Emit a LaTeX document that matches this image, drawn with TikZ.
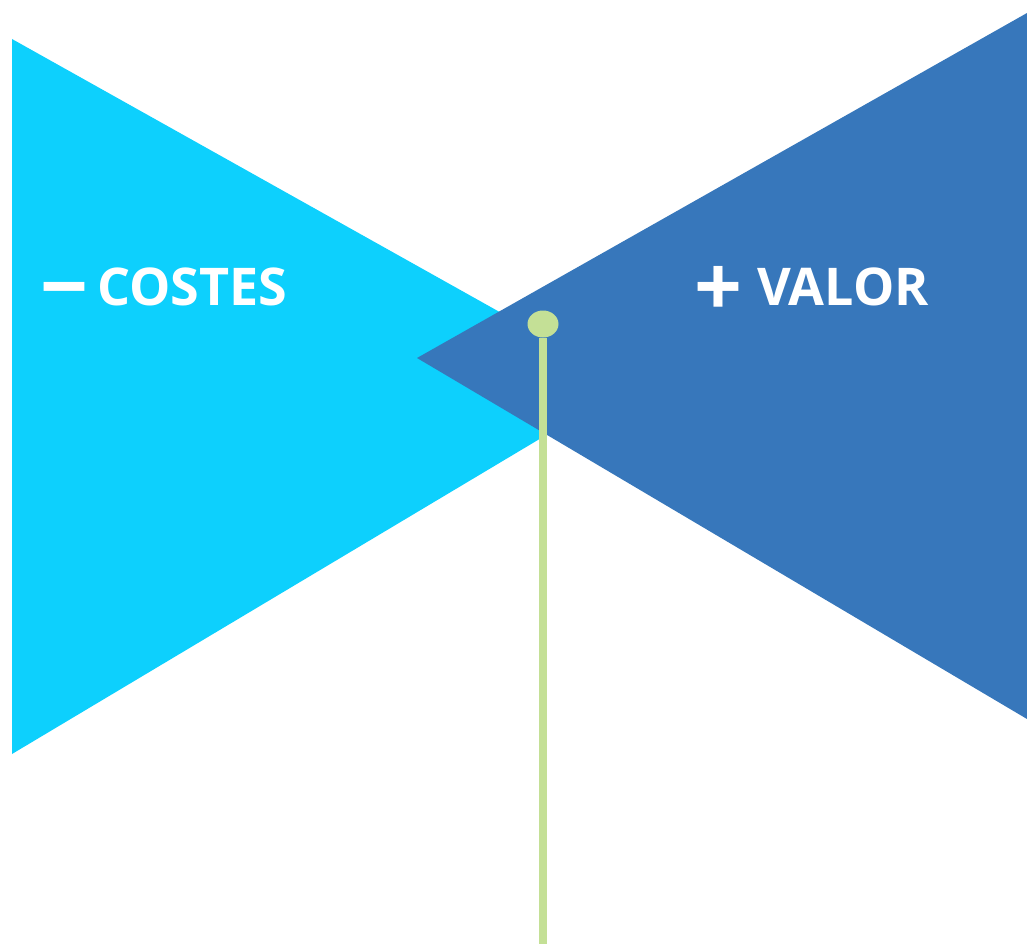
\documentclass[tikz,border=0pt]{standalone}
\usepackage{fontspec}
\setmainfont{Open Sans}
\usetikzlibrary{shapes.geometric}

\definecolor{costcyan}{RGB}{13,208,253}
\definecolor{valueblue}{RGB}{55,119,187}
\definecolor{pingreen}{RGB}{196,224,150}

\begin{document}
\begin{tikzpicture}[x=1pt, y=-1pt,
  word/.style={text=white, inner sep=0pt, anchor=base west,
    font=\bfseries\fontsize{52}{60}\selectfont},
  sign/.style={text=white, inner sep=0pt, anchor=base west,
    font=\bfseries\fontsize{84}{90}\selectfont}]

\useasboundingbox (0,0) rectangle (1027,944);
\clip (0,0) rectangle (1027,944);

% the two wedges
\fill[costcyan] (12,39) -- (630,385) -- (12,754) -- cycle;
\fill[valueblue] (417,358) -- (1027,13) -- (1027,719) -- cycle;

% labels
\node[sign] (minus) at (40,316)  {−};
\node[word] (costes) at (97,305) {COSTES};
\node[sign] (plus) at (694,316)  {+};
\node[word] (valor) at (757,305) {VALOR};

% pin
\node[ellipse, fill=pingreen, minimum width=31, minimum height=27, inner sep=0pt] (pinhead) at (543,324) {};
\coordinate (pinfoot) at (543,944);
\draw[pingreen, line width=8] (pinhead) -- (pinfoot);

\end{tikzpicture}
\end{document}
